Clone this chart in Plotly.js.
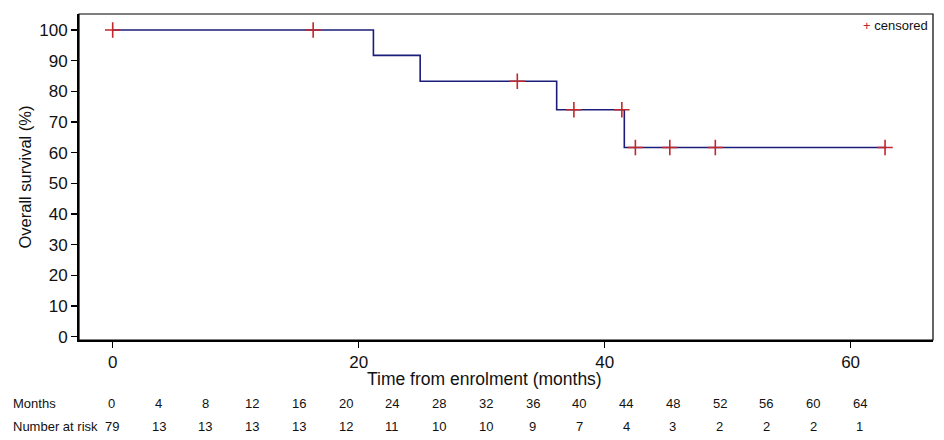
<!DOCTYPE html>
<html>
<head>
<meta charset="utf-8">
<script src="https://cdn.plot.ly/plotly-3.0.1.min.js"></script>
<style>html,body{margin:0;padding:0;background:#fff;}#chart{width:944px;height:440px;}</style>
</head>
<body>
<div id="chart"></div>
<script>
// Kaplan-Meier step data
const stepTimes = [0, 21.2, 25.0, 36.1, 41.6, 62.9];
const survival = [100, 91.7, 83.3, 74.0, 61.7, 61.7];
// Censored observations
const censorTimes = [0, 16.3, 32.9, 37.5, 41.4, 42.5, 45.3, 49.0, 62.8];
const censorSurv = [100, 100, 83.3, 74.0, 74.0, 61.7, 61.7, 61.7, 61.7];
// Number-at-risk table
const months = [0, 4, 8, 12, 16, 20, 24, 28, 32, 36, 40, 44, 48, 52, 56, 60, 64];
const atRisk = [79, 13, 13, 13, 13, 12, 11, 10, 10, 9, 7, 4, 3, 2, 2, 2, 1];
const xTicks = [0, 20, 40, 60];
const yTicks = [0, 10, 20, 30, 40, 50, 60, 70, 80, 90, 100];

const FONT = 'Liberation Sans, Arial, sans-serif';
const lineColor = '#1c1c7a';
const censorColor = '#c0282d';

const traces = [
  {
    x: stepTimes, y: survival, type: 'scatter', mode: 'lines',
    line: {shape: 'hv', color: lineColor, width: 1.6},
    showlegend: false, hoverinfo: 'x+y'
  },
  {
    x: censorTimes, y: censorSurv, type: 'scatter', mode: 'markers',
    marker: {symbol: 'cross-thin', size: 11, line: {color: censorColor, width: 1.6}, color: censorColor},
    name: 'censored', showlegend: false, cliponaxis: false
  }
];

const annotations = [];
annotations.push({xref: 'paper', yref: 'paper', x: -0.080, y: -0.196, xanchor: 'left', yanchor: 'middle',
  text: 'Months', showarrow: false, font: {family: FONT, size: 13, color: '#111'}});
annotations.push({xref: 'paper', yref: 'paper', x: -0.080, y: -0.264, xanchor: 'left', yanchor: 'middle',
  text: 'Number at risk', showarrow: false, font: {family: FONT, size: 13, color: '#111'}});
months.forEach((m, i) => {
  annotations.push({xref: 'x2', yref: 'paper', x: m, y: -0.196, xanchor: 'center', yanchor: 'middle',
    text: String(m), showarrow: false, font: {family: FONT, size: 13, color: '#111'}});
  annotations.push({xref: 'x2', yref: 'paper', x: m, y: -0.264, xanchor: 'center', yanchor: 'middle',
    text: String(atRisk[i]), showarrow: false, font: {family: FONT, size: 13, color: '#111'}});
});
annotations.push({xref: 'paper', yref: 'paper', x: 0.996, y: 0.965, xanchor: 'right', yanchor: 'middle',
  text: '<span style="color:' + censorColor + '">+</span> censored', showarrow: false,
  font: {family: FONT, size: 13, color: '#111'}});
// x-axis title (offset left of plot centre as in the original)
annotations.push({xref: 'paper', yref: 'paper', x: 0.475, y: -0.12, xanchor: 'center', yanchor: 'middle',
  text: 'Time from enrolment (months)', showarrow: false, font: {family: FONT, size: 17.5, color: '#111'}});

const layout = {
  width: 944, height: 440,
  margin: {l: 79, r: 11, t: 14, b: 100},
  paper_bgcolor: '#fff', plot_bgcolor: '#fff',
  font: {family: FONT, color: '#111'},
  xaxis: {
    range: [-2.74, 66.7], tickvals: xTicks, ticktext: xTicks.map(String),
    showgrid: false, zeroline: false, showline: true, linewidth: 2, linecolor: '#000',
    ticks: 'outside', ticklen: 6, tickwidth: 1.5, tickcolor: '#000',
    tickfont: {family: FONT, size: 17, color: '#111'}
  },
  xaxis2: {
    range: [-2.82, 70.25], overlaying: 'x', visible: false, showgrid: false, zeroline: false
  },
  yaxis: {
    range: [-1.07, 105.2], tickvals: yTicks, ticktext: yTicks.map(String),
    showgrid: false, zeroline: false, showline: true, linewidth: 2, linecolor: '#000',
    ticks: 'outside', ticklen: 6, tickwidth: 1.5, tickcolor: '#000',
    tickfont: {family: FONT, size: 17, color: '#111'},
    title: {text: 'Overall survival (%)', font: {family: FONT, size: 16.5, color: '#111'}, standoff: 3}
  },
  shapes: [{type: 'rect', xref: 'paper', yref: 'paper', x0: 0, x1: 1, y0: 0, y1: 1,
    line: {color: '#000', width: 1.2}, layer: 'above'}],
  annotations: annotations,
  showlegend: false
};

Plotly.newPlot('chart', traces, layout, {staticPlot: true, displayModeBar: false});
</script>
</body>
</html>
